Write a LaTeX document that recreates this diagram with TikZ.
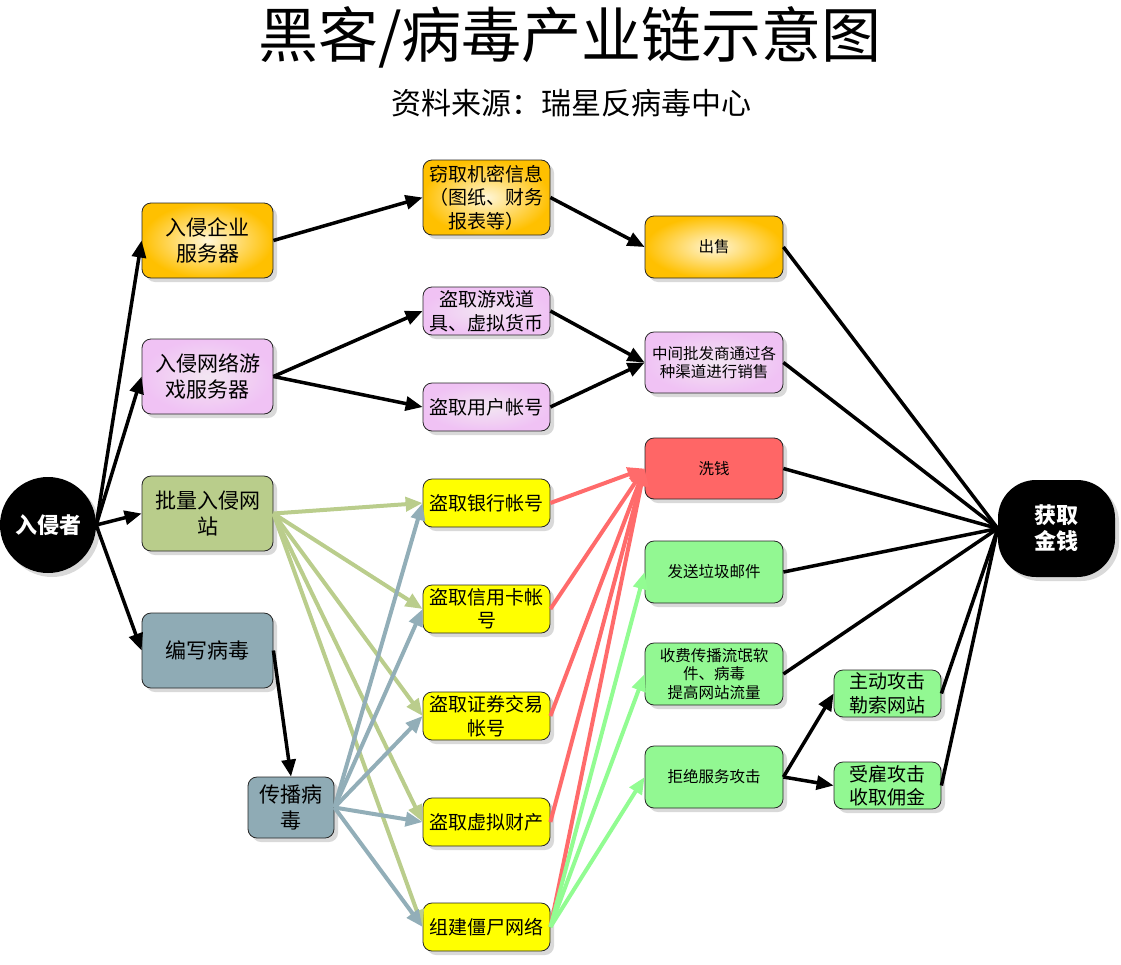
\documentclass[tikz,border=0pt]{standalone}
\usepackage{fontspec}
\setmainfont{Noto Sans CJK SC}
\usetikzlibrary{shadows,arrows.meta}
\definecolor{orgO}{HTML}{FFC000}
\definecolor{orgI}{HTML}{FFF6D8}
\definecolor{pnkO}{HTML}{F0C2F4}
\definecolor{pnkI}{HTML}{F2E6F2}
\definecolor{oliv}{HTML}{B9CD8B}
\definecolor{gblu}{HTML}{8FABB5}
\definecolor{yelw}{HTML}{FFFF00}
\definecolor{redd}{HTML}{FF6666}
\definecolor{lgrn}{HTML}{92F892}
\definecolor{olivL}{HTML}{BACD8C}
\definecolor{gbluL}{HTML}{92AEB8}
\definecolor{reddL}{HTML}{FF6B6B}
\definecolor{lgrnL}{HTML}{92FC92}
\begin{document}
\begin{tikzpicture}[x=1pt,y=-1pt,
  box/.style={draw=black!85, line width=0.8pt, rounded corners=9pt, inner sep=0pt, align=center,
    drop shadow={shadow xshift=4pt,shadow yshift=-4pt,opacity=0.3}},
  obox/.style={box, inner color=orgI, outer color=orgO},
  pbox/.style={box, inner color=pnkI, outer color=pnkO},
  olbox/.style={box, fill=oliv},
  gbbox/.style={box, fill=gblu},
  ybox/.style={box, fill=yelw},
  rbox/.style={box, fill=redd},
  gbox/.style={box, fill=lgrn},
  fA/.style={font=\fontsize{21}{26}\selectfont},
  fB/.style={font=\fontsize{19}{23.5}\selectfont},
  fC/.style={font=\fontsize{15.5}{18.5}\selectfont},
  blk/.style={line width=3.5pt, draw=black, -{Triangle[length=17pt,width=14pt]}},
  blkn/.style={line width=3.5pt, draw=black},
  coll/.style={line width=4pt, -{Triangle[length=17pt,width=14pt]}},
]
\useasboundingbox (0,0) rectangle (1121,964);

% title
\node (title) at (570,37) {\fontsize{60}{60}\selectfont 黑客/病毒产业链示意图};
\node (sub) at (571,103) {\fontsize{30}{30}\selectfont 资料来源：瑞星反病毒中心};

% nodes
\node[circle, fill=black, minimum size=96pt, inner sep=0pt, drop shadow={shadow xshift=4pt,shadow yshift=-4pt,opacity=0.3}, text=white, font=\fontsize{22}{26}\selectfont\bfseries] (intr) at (48,525) {入侵者};

\node[obox, fA, minimum width=131pt, minimum height=75pt] (qy) at (207.5,240.5) {入侵企业\\服务器};
\node[pbox, fA, minimum width=131pt, minimum height=75pt] (wy) at (207.5,376.5) {入侵网络游\\戏服务器};
\node[olbox, fA, minimum width=131pt, minimum height=75pt] (pl) at (207.5,513.5) {批量入侵网\\站};
\node[gbbox, fA, minimum width=131pt, minimum height=75pt] (bx) at (207.5,650.5) {编写病毒};
\node[gbbox, fA, minimum width=86pt, minimum height=61pt] (cb) at (291,807.5) {传播病\\毒};

\node[obox, fB, minimum width=127pt, minimum height=75pt] (qq) at (486.5,197.5) {窃取机密信息\\（图纸、财务\\报表等）};
\node[pbox, fB, minimum width=127pt, minimum height=48pt] (yx) at (486.5,311) {盗取游戏道\\具、虚拟货币};
\node[pbox, fB, minimum width=127pt, minimum height=48pt] (yh) at (486.5,407) {盗取用户帐号};
\node[ybox, fB, minimum width=127pt, minimum height=48pt] (yhk) at (486.5,503) {盗取银行帐号};
\node[ybox, fB, minimum width=127pt, minimum height=48pt] (xyk) at (486.5,609) {盗取信用卡帐\\号};
\node[ybox, fB, minimum width=127pt, minimum height=48pt] (zq) at (486.5,716) {盗取证券交易\\帐号};
\node[ybox, fB, minimum width=127pt, minimum height=48pt] (xn) at (486.5,822) {盗取虚拟财产};
\node[ybox, fB, minimum width=127pt, minimum height=48pt] (js) at (486.5,927) {组建僵尸网络};

\node[obox, fC, minimum width=138pt, minimum height=62pt] (cs) at (714,247) {出售};
\node[pbox, fC, minimum width=138pt, minimum height=61pt] (zj) at (714,362.5) {中间批发商通过各\\种渠道进行销售};
\node[rbox, fC, minimum width=138pt, minimum height=61pt] (xq) at (714,468.5) {洗钱};
\node[gbox, fC, minimum width=138pt, minimum height=62pt] (fs) at (714,572) {发送垃圾邮件};
\node[gbox, fC, minimum width=138pt, minimum height=62pt] (sf) at (714,674) {收费传播流氓软\\件、病毒\\提高网站流量};
\node[gbox, fC, minimum width=138pt, minimum height=62pt] (jj) at (714,777) {拒绝服务攻击};
\node[gbox, fB, minimum width=107pt, minimum height=47pt] (zd) at (887.5,693.5) {主动攻击\\勒索网站};
\node[gbox, fB, minimum width=107pt, minimum height=47pt] (sg) at (887.5,785.5) {受雇攻击\\收取佣金};

\node[fill=black, rounded corners=38pt, minimum width=117pt, minimum height=97pt, inner sep=0pt, align=center,
  drop shadow={shadow xshift=4pt,shadow yshift=-4pt,opacity=0.3}, text=white,
  font=\fontsize{22}{26}\selectfont\bfseries] (hq) at (1056.5,528.5) {获取\\金钱};

% black connectors
\draw[blk] (intr.east) -- (qy.west);
\draw[blk] (intr.east) -- (wy.west);
\draw[blk] (intr.east) -- (pl.west);
\draw[blk] (intr.east) -- (bx.west);
\draw[blk] (bx.east) -- (cb.north);
\draw[blk] (qy.east) -- (qq.west);
\draw[blk] (qq.east) -- (cs.west);
\draw[blk] (wy.east) -- (yx.west);
\draw[blk] (wy.east) -- (yh.west);
\draw[blk] (yx.east) -- (zj.west);
\draw[blk] (yh.east) -- (zj.west);
\draw[blk] (jj.east) -- (zd.west);
\draw[blk] (jj.east) -- (sg.west);
\foreach \s in {cs,zj,xq,fs,sf,zd,sg} \draw[blkn] (\s.east) -- (hq.west);

% olive connectors
\foreach \t in {yhk,xyk,zq,xn,js} \draw[coll, olivL] (pl.east) -- (\t.west);
% grey-blue connectors
\foreach \t in {yhk,xyk,zq,xn,js} \draw[coll, gbluL] (cb.east) -- (\t.west);
% red connectors
\foreach \s in {yhk,xyk,zq,xn,js} \draw[coll, reddL] (\s.east) -- (xq.west);
% green connectors
\foreach \t in {fs,sf,jj} \draw[coll, lgrnL] (js.east) -- (\t.west);
\end{tikzpicture}
\end{document}
